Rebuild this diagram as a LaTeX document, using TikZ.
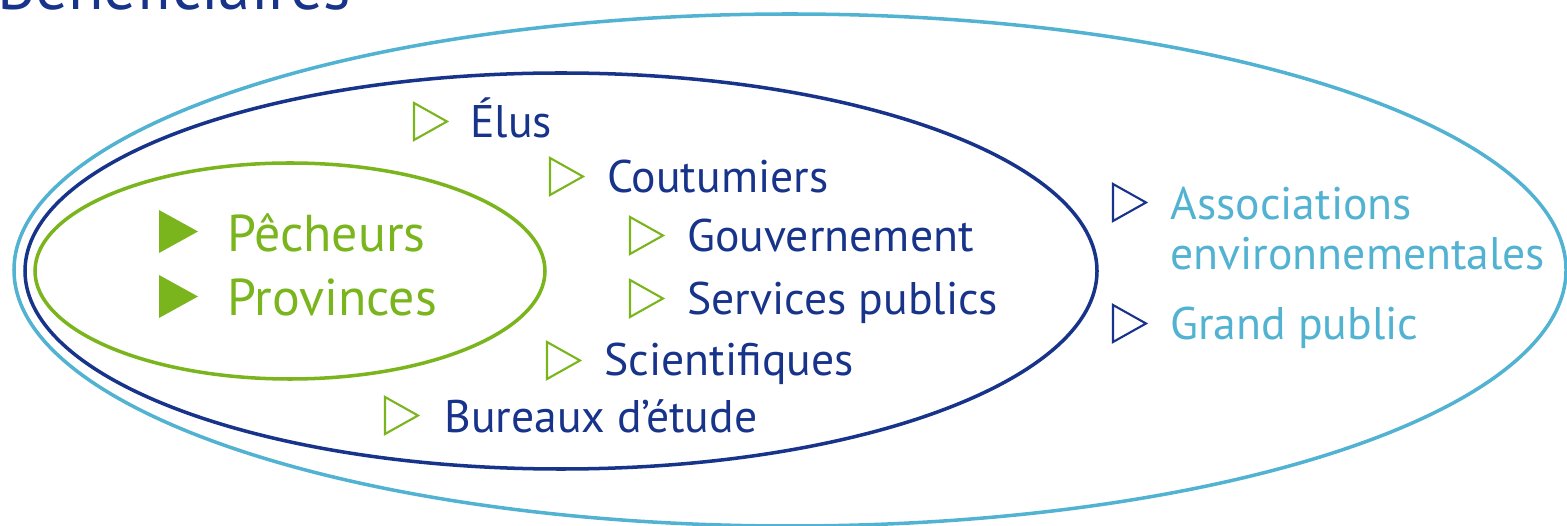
\documentclass[tikz,border=0pt]{standalone}
\usepackage{fontspec}
\setmainfont{PT Sans}
\definecolor{navy}{HTML}{17338A}
\definecolor{sky}{HTML}{52B2D2}
\definecolor{leaf}{HTML}{7AB51D}
\tikzset{
  ring/.style={line width=2pt},
  item/.style={anchor=base west, inner sep=0pt, font=\fontsize{26}{30}\selectfont},
  bigitem/.style={anchor=base west, inner sep=0pt, font=\fontsize{29.5}{34}\selectfont, text=leaf},
  opentri/.style={line width=1.2pt}
}
\newcommand{\opentri}[3]{\draw[opentri,#3] (#1,#2) -- ++(33,18.5) -- ++(-33,18.5) -- cycle;}
\begin{document}
\begin{tikzpicture}[x=0.02cm,y=-0.02cm]
\useasboundingbox (0,0) rectangle (1567,526);
\clip (0,0) rectangle (1567,526);

% title, cut at the top
\node[anchor=base west, inner sep=0pt, text=navy, font=\fontsize{37}{40}\selectfont] (title) at (-3,10) {Bénéficiaires};

% rings
\draw[ring, sky] (790,270) ellipse (776 and 256);
\draw[ring, navy] (561,271) ellipse (536 and 198);
\draw[ring, leaf] (290,271) ellipse (255 and 108);

% inner ring
\fill[leaf] (159,210) -- ++(39,21.5) -- ++(-39,21.5) -- cycle;
\node[bigitem] (pecheurs) at (227,252) {Pêcheurs};
\fill[leaf] (159,275) -- ++(39,21.5) -- ++(-39,21.5) -- cycle;
\node[bigitem] (provinces) at (227,316) {Provinces};

% middle ring
\opentri{414}{103}{leaf}
\node[item, text=navy] (elus) at (470,138) {Élus};
\opentri{550}{158}{leaf}
\node[item, text=navy] (coutumiers) at (607,193) {Coutumiers};
\opentri{630}{217}{leaf}
\node[item, text=navy] (gouv) at (687,252) {Gouvernement};
\opentri{630}{280}{leaf}
\node[item, text=navy] (services) at (687,315) {Services publics};
\opentri{547}{342}{leaf}
\node[item, text=navy] (scientifiques) at (604,376) {Scientifiques};
\opentri{385}{397}{leaf}
\node[item, text=navy] (bureaux) at (444,432) {Bureaux d’étude};

% outer ring
\opentri{1113}{184}{navy}
\node[item, text=sky, align=left, anchor=north west] (assoc) at (1170,187) {Associations\\[-2pt]environnementales};
\opentri{1113}{305}{navy}
\node[item, text=sky] (public) at (1170,340) {Grand public};
\end{tikzpicture}
\end{document}
